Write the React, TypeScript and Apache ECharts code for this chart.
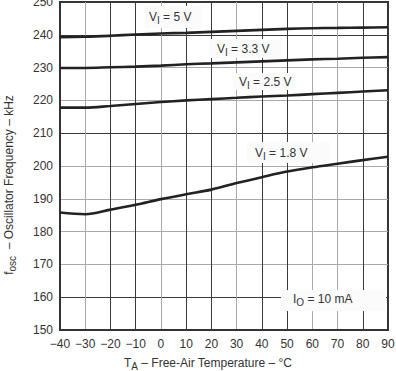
import React, { useEffect, useRef } from "react";
import * as echarts from "echarts";

const temps = [-40, -30, -20, -10, 0, 10, 20, 30, 40, 50, 60, 70, 80, 90];
const v50 = [239.3, 239.4, 239.7, 240.1, 240.4, 240.6, 240.9, 241.2, 241.5, 241.8, 242.0, 242.1, 242.2, 242.3];
const v33 = [229.9, 229.9, 230.1, 230.3, 230.6, 231.0, 231.3, 231.6, 231.9, 232.2, 232.5, 232.7, 233.0, 233.2];
const v25 = [217.8, 217.8, 218.3, 218.9, 219.5, 220.0, 220.4, 220.8, 221.2, 221.5, 221.9, 222.3, 222.7, 223.1];
const v18 = [185.8, 185.3, 186.7, 188.2, 189.9, 191.4, 192.8, 194.8, 196.6, 198.3, 199.6, 200.7, 201.8, 202.8];

const FONT = "Arial, 'Liberation Sans', Helvetica, sans-serif";
const TXT = "#333";
const DARK = "#3a3a3a";
const GRAY = "#aaaaaa";

const xGridColors = [DARK, GRAY, DARK, DARK, GRAY, DARK, DARK, GRAY, DARK, DARK, GRAY, GRAY, DARK, DARK];
const yGridColors = [DARK, DARK, GRAY, GRAY, GRAY, GRAY, DARK, GRAY, GRAY, DARK, DARK];

const rich = {
  a: { fontSize: 12, fontFamily: FONT, fill: TXT, color: TXT, lineHeight: 16 },
  s: { fontSize: 10, fontFamily: FONT, fill: TXT, color: TXT, lineHeight: 10, padding: [7, 0, 0, 0], verticalAlign: "bottom" },
};

function label(x: number, y: number, main: string, sub: string, rest: string) {
  return {
    type: "text",
    x,
    y,
    z: 5,
    style: {
      text: `{a|${main}}{s|${sub}}{a|${rest}}`,
      rich,
      align: "left",
      verticalAlign: "middle",
    },
  };
}

function box(x: number, y: number, w: number, h: number) {
  return {
    type: "rect",
    z: 1,
    shape: { x, y, width: w, height: h },
    style: { fill: "#fbfbfb" },
  };
}

export default function App() {
  const ref = useRef<HTMLDivElement>(null);
  useEffect(() => {
    const chart = echarts.init(ref.current!, undefined, { renderer: "svg" });
    const mk = (vals: number[]) => ({
      type: "line",
      data: temps.map((t, i) => [t, vals[i]]),
      smooth: 0.35,
      symbol: "none",
      z: 3,
      lineStyle: { color: "#222", width: 2.6 },
    });
    chart.setOption({
      animation: false,
      grid: { left: 60, right: 8, top: 2, bottom: 41, outerBoundsMode: "none", containLabel: false },
      xAxis: {
        type: "value",
        min: -40,
        max: 90,
        interval: 10,
        axisLine: { show: true, onZero: false, lineStyle: { color: "#333", width: 2 } },
        axisTick: { show: false },
        axisLabel: {
          margin: 8,
          color: TXT,
          fontSize: 12,
          fontFamily: FONT,
          formatter: (v: number) => String(v).replace("-", "\u2212"),
        },
        splitLine: { show: true, lineStyle: { color: xGridColors, width: 1 } },
      },
      yAxis: {
        type: "value",
        min: 150,
        max: 250,
        interval: 10,
        axisLine: { show: true, onZero: false, lineStyle: { color: "#333", width: 2 } },
        axisTick: { show: false },
        axisLabel: { margin: 7, color: TXT, fontSize: 12, fontFamily: FONT },
        splitLine: { show: true, lineStyle: { color: yGridColors, width: 1 } },
      },
      series: [mk(v50), mk(v33), mk(v25), mk(v18)],
      graphic: [
        {
          type: "rect",
          z: 0,
          silent: true,
          shape: { x: 60, y: 2, width: 328, height: 328 },
          style: { fill: "none", stroke: "#333", lineWidth: 2 },
        },
        box(145, 6, 57, 22),
        box(209, 39, 73, 19),
        box(233, 73, 63, 17),
        box(247, 142, 83, 21),
        box(281, 290, 105, 21),
        label(149, 17, "V", "I", " = 5 V"),
        label(217, 49, "V", "I", " = 3.3 V"),
        label(239, 82, "V", "I", " = 2.5 V"),
        label(255, 153, "V", "I", " = 1.8 V"),
        label(293, 299, "I", "O", " = 10 mA"),
        {
          type: "text",
          x: 208,
          y: 363,
          z: 5,
          style: {
            text: "{a|T}{s|A}{a| \u2013 Free-Air Temperature \u2013 \u00b0C}",
            rich,
            align: "center",
            verticalAlign: "middle",
          },
        },
        {
          type: "text",
          x: 9,
          y: 185,
          z: 5,
          rotation: Math.PI / 2,
          style: {
            text: "{a|f}{s|osc}{a|  \u2013 Oscillator Frequency \u2013 kHz}",
            rich,
            align: "center",
            verticalAlign: "middle",
          },
        },
      ],
    });
    return () => chart.dispose();
  }, []);
  return <div ref={ref} style={{ width: 396, height: 371, position: "absolute", left: 0, top: 0 }} />;
}
